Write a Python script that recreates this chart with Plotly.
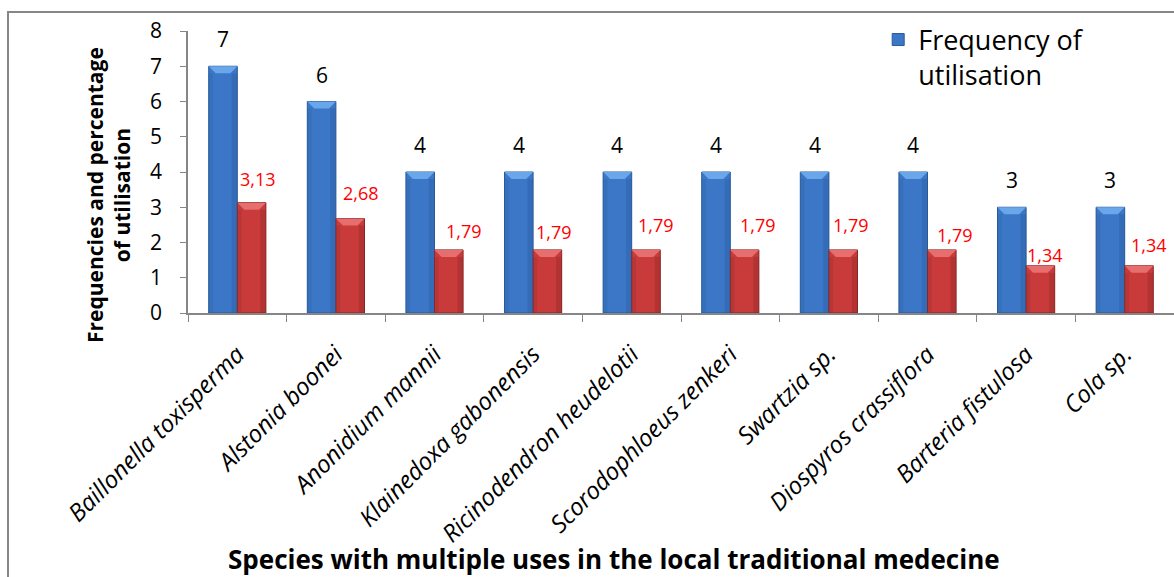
import plotly.graph_objects as go

# Species cited for several uses in local traditional medicine
species = [
    "Baillonella toxisperma", "Alstonia boonei", "Anonidium mannii",
    "Klainedoxa gabonensis", "Ricinodendron heudelotii", "Scorodophloeus zenkeri",
    "Swartzia sp.", "Diospyros crassiflora", "Barteria fistulosa", "Cola sp.",
]
frequency = [7, 6, 4, 4, 4, 4, 4, 4, 3, 3]
percentage = [3.13, 2.68, 1.79, 1.79, 1.79, 1.79, 1.79, 1.79, 1.34, 1.34]
y_ticks = [0, 1, 2, 3, 4, 5, 6, 7, 8]

# Hand-placed nudges for the red value labels (pixels)
pct_label_dx = [6.5, 10.5, 15, 6.5, 10, 13, 7.5, 13.5, 5, 10]
pct_label_dy = [24, 25.5, 19, 18, 25, 25, 25, 15, 11, 21]

FONT = "Open Sans"
BAR_W = 0.29
BLUE, BLUE_EDGE, BLUE_CAP = "#3b77c6", "#285a9a", "#6aa6ea"
RED, RED_EDGE, RED_CAP = "#c93b3b", "#8a2626", "#e66e6e"

fig = go.Figure()
fig.add_trace(go.Bar(
    x=species, y=frequency, name="Frequency of<br>utilisation",
    offset=-BAR_W, width=BAR_W,
    marker=dict(color=BLUE, line=dict(color=BLUE_EDGE, width=1)),
    showlegend=True,
))
fig.add_trace(go.Bar(
    x=species, y=percentage, name="Percentage of utilisation",
    offset=0, width=BAR_W,
    marker=dict(color=RED, line=dict(color=RED_EDGE, width=1)),
    showlegend=False,
))

# Bevelled top caps and side shading on every bar, derived from the values
px_per_x = 986 / len(species)
px_per_y = 282 / 8
bev_x = 7 / px_per_x
bev_y = 7 / px_per_y
shapes = []
for i, (f, p) in enumerate(zip(frequency, percentage)):
    for x0, h, cap, edge in ((i - BAR_W, f, BLUE_CAP, BLUE_EDGE), (i, p, RED_CAP, RED_EDGE)):
        x1 = x0 + BAR_W
        shapes.append(dict(
            type="path", xref="x", yref="y",
            path=f"M {x0},{h} L {x1},{h} L {x1 - bev_x},{h - bev_y} L {x0 + bev_x},{h - bev_y} Z",
            fillcolor=cap, line=dict(width=0), layer="above",
        ))
        shapes.append(dict(
            type="rect", xref="x", yref="y",
            x0=x1 - bev_x * 0.8, x1=x1, y0=0, y1=h - bev_y,
            fillcolor=edge, opacity=0.35, line=dict(width=0), layer="above",
        ))
        shapes.append(dict(
            type="rect", xref="x", yref="y",
            x0=x0, x1=x0 + bev_x * 0.6, y0=0, y1=h - bev_y,
            fillcolor=edge, opacity=0.25, line=dict(width=0), layer="above",
        ))

# Outer frame of the chart
shapes.append(dict(
    type="rect", xref="paper", yref="paper",
    x0=-180 / 986, x1=1.1, y0=-300 / 282, y1=301 / 282,
    line=dict(color="#868686", width=2), fillcolor="rgba(0,0,0,0)", layer="below",
))

annotations = []
for i, (f, p) in enumerate(zip(frequency, percentage)):
    annotations.append(dict(
        x=i - BAR_W / 2, y=f, xref="x", yref="y", text=str(f),
        showarrow=False, yanchor="middle", yshift=27,
        font=dict(family=FONT, size=21, color="black"),
    ))
    annotations.append(dict(
        x=i + BAR_W / 2, y=p, xref="x", yref="y", text=f"{p:.2f}".replace(".", ","),
        showarrow=False, yanchor="middle", yshift=pct_label_dy[i], xshift=pct_label_dx[i],
        font=dict(family=FONT, size=18, color="#ff0000"),
    ))

annotations.append(dict(
    text="<b>Species with multiple uses in the local traditional medecine</b>",
    xref="paper", yref="paper", x=(614 - 188) / 986, y=(313 - 559) / 282,
    xanchor="center", yanchor="middle", showarrow=False,
    font=dict(family=FONT, size=26, color="black"),
))
annotations.append(dict(
    text="<b>Frequencies and percentage<br>of utilisation</b>",
    xref="paper", yref="paper", x=(108 - 188) / 986, y=(313 - 195) / 282,
    xanchor="center", yanchor="middle", showarrow=False, textangle=-90,
    font=dict(family=FONT, size=21, color="black"),
))

fig.update_layout(
    width=1174, height=577,
    margin=dict(l=188, r=0, t=31, b=264),
    paper_bgcolor="white", plot_bgcolor="white",
    barmode="overlay",
    shapes=shapes, annotations=annotations,
    legend=dict(
        x=0.70, y=1.055, xanchor="left", yanchor="top", valign="top",
        font=dict(family=FONT, size=27, color="black"),
        bgcolor="rgba(0,0,0,0)", itemwidth=30,
    ),
    xaxis=dict(
        type="category", tickson="boundaries", ticks="outside", ticklen=7,
        tickcolor="#868686", showline=True, linecolor="#868686", linewidth=1.5,
        tickangle=-45, tickfont=dict(family=FONT, size=24, color="black", style="italic"),
        range=[-0.5, len(species) - 0.5], showgrid=False, ticklabelstandoff=16,
    ),
    yaxis=dict(
        range=[0, 8], tickvals=y_ticks, ticks="outside", ticklen=6,
        tickcolor="#868686", showline=True, linecolor="#868686", linewidth=1.5,
        tickfont=dict(family=FONT, size=21, color="black"), showgrid=False,
        zeroline=False, ticklabelstandoff=14,
    ),
)

fig.write_html("out.html")
